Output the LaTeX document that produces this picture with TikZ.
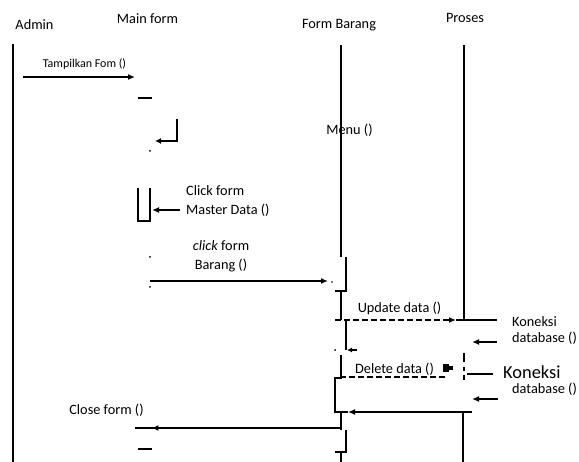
\documentclass[tikz,border=0pt]{standalone}
\usepackage{fontspec}
\setmainfont{Carlito}
\usetikzlibrary{arrows.meta,decorations.markings}

\begin{document}
\begin{tikzpicture}[x=1pt, y=-1pt,
  every node/.style={font=\fontsize{14.3}{19}\selectfont, inner sep=0pt},
  small/.style={font=\fontsize{12}{14}\selectfont},
  big/.style={font=\fontsize{18.4}{22}\selectfont},
  tight/.style={font=\fontsize{14.3}{16}\selectfont},
  lbl/.style={align=left, anchor=west},
  life/.style={line width=2.4pt},
  frag/.style={line width=1.8pt},
  msg/.style={line width=2pt, -{Latex[length=7pt,width=6pt]}},
  ret/.style={line width=1.6pt, dash pattern=on 6pt off 3pt, -{Latex[length=7pt,width=6pt]}},
  tip at/.style={postaction={decorate}, decoration={markings,
    mark=at position #1 with {\arrow{Latex[length=7pt,width=6pt]}}}},
  dot/.style={fill=black}
]
\useasboundingbox (0,0) rectangle (579,462);

% objects
\node (admin) at (34.5,25) {Admin};
\node (mainf) at (147.5,19) {Main form};
\node (formb) at (339,25) {Form Barang};
\node (proses) at (465,18) {Proses};

% lifelines
\coordinate (admin top) at (13,44);
\coordinate (admin bot) at (13,462);
\coordinate (fb top) at (341,45);
\coordinate (fb act) at (341,257);
\coordinate (pr top) at (464,45);
\coordinate (pr upd) at (464,320);
\draw[life] (admin top) -- (admin bot);
\draw[life] (fb top) -- (fb act);
\draw[life] (pr top) -- (pr upd);

% Tampilkan Fom
\coordinate (tf s) at (23,77);
\coordinate (tf e) at (135,77);
\draw[msg] (tf s) -- (tf e);
\node[small] (tf lbl) at (84.5,64) {Tampilkan Fom ()};
\draw[frag] (138,98) -- (152,98);

% Menu
\coordinate (menu a) at (177,119);
\coordinate (menu b) at (177,141);
\coordinate (menu c) at (155,141);
\draw[frag, -{Latex[length=6pt,width=6pt]}] (menu a) -- (menu b) -- (menu c);
\node (menu) at (349.5,130) {Menu ()};
\fill[dot] (150,151) circle (1pt);

% Click form Master Data
\draw[frag] (138,188) -- (138,221) -- (150,221) -- (150,188);
\coordinate (md s) at (180,210);
\coordinate (md e) at (152,210);
\draw[msg, line width=1.6pt] (md s) -- (md e);
\node[lbl] (md lbl) at (186,201.5) {Click form\\Master Data ()};

% click form Barang
\node[align=center] (br lbl) at (221,256.5) {\textit{click} form\\Barang ()};
\fill[dot] (150,257) circle (1pt);
\fill[dot] (150,287) circle (1pt);
\coordinate (br s) at (150,281);
\coordinate (br e) at (328,281);
\draw[msg] (br s) -- (br e);
\fill[dot] (332,282) circle (0.8pt);
\draw[frag] (346,257) -- (346,291) -- (335,291);
\draw[life] (341,291) -- (341,320);

% Update data
\coordinate (ud s) at (335,320);
\coordinate (ud e) at (456,320);
\coordinate (kn1 out) at (497,320);
\draw[ret] (ud s) -- (ud e);
\draw[frag] (ud e) -- (kn1 out);
\node (ud lbl) at (399.5,308) {Update data ()};
\node[lbl, tight] (kn1 lbl) at (512,331) {Koneksi\\database ()};
\coordinate (kn1 s) at (497,342);
\coordinate (kn1 e) at (472,342);
\draw[msg] (kn1 s) -- (kn1 e);
\draw[frag] (346,320) -- (346,350);
\draw[-{Latex[length=5pt,width=5pt]}, line width=1.2pt] (357,350) -- (347,350);
\fill[dot] (335,350) circle (1pt);

% Delete data
\draw[life] (341,355) -- (341,378) -- (335,378) -- (335,412) -- (348,412);
\coordinate (dd s) at (340,377);
\coordinate (dd e) at (445,377);
\draw[line width=1.6pt, dash pattern=on 6pt off 3pt] (dd s) -- (dd e);
\node (dd lbl) at (394.5,369) {Delete data ()};
\fill (443,364) rectangle (449,372);
\fill (446,366) rectangle (453,370);
\draw[frag, dash pattern=on 9pt off 5pt on 4pt off 4pt] (464,353) -- (464,380);
\coordinate (kn2 s) at (467,374);
\coordinate (kn2 e) at (493,374);
\draw[line width=1.4pt] (kn2 s) -- (kn2 e);
\node[big, anchor=west] (kn2 lbl) at (503,372) {Koneksi};
\node[lbl] (kn2 lbl b) at (512,389) {database ()};
\coordinate (kn3 s) at (498,399);
\coordinate (kn3 e) at (472,399);
\draw[msg] (kn3 s) -- (kn3 e);
\coordinate (pr ret) at (472,412);
\coordinate (fb ret) at (348,412);
\draw[msg] (pr ret) -- (fb ret);
\draw[life] (463,412) -- (463,462);

% Close form
\draw[life] (341,412) -- (341,430);
\coordinate (cf s) at (341,428);
\coordinate (cf e) at (135,428);
\draw[line width=2pt, tip at=0.92] (cf s) -- (cf e);
\node (cf lbl) at (106.5,410) {Close form ()};
\draw[frag] (346,430) -- (346,452) -- (335,452);
\draw[life] (341,452) -- (341,462);
\draw[frag] (138,449) -- (152,449);
\end{tikzpicture}
\end{document}
